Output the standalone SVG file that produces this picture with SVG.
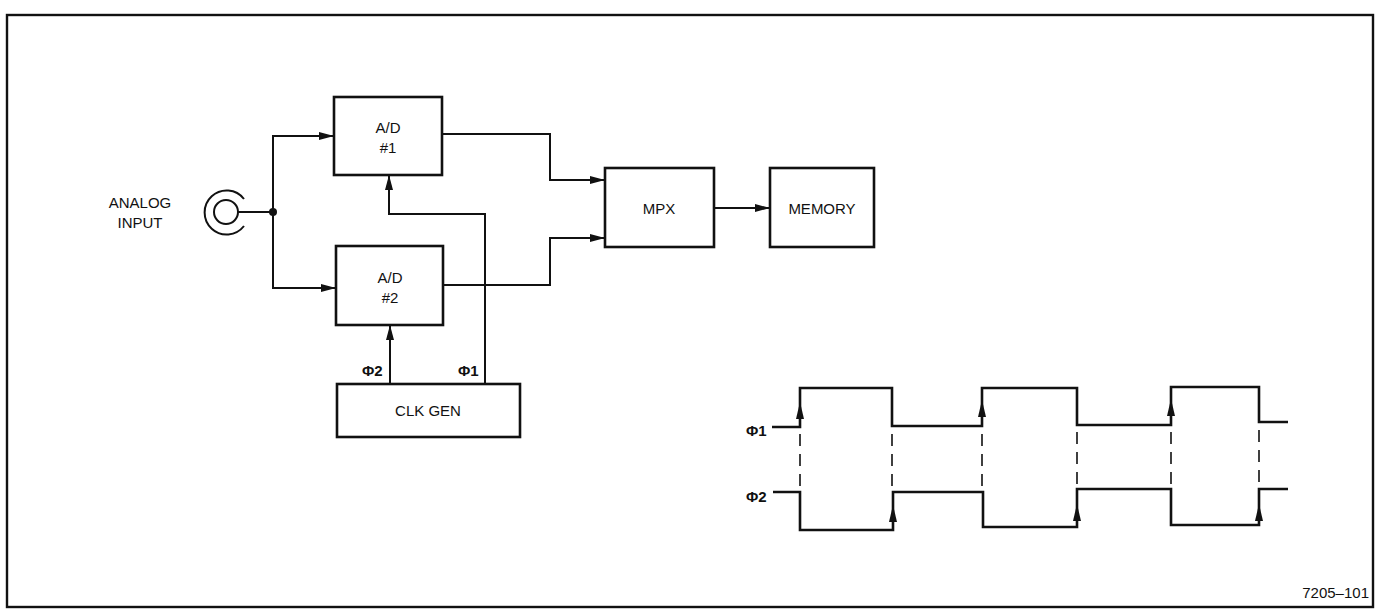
<svg xmlns="http://www.w3.org/2000/svg" width="1379" height="612" viewBox="0 0 1379 612">
<style>
.box{fill:#fff;stroke:#111;stroke-width:2.6}
.ln{fill:none;stroke:#111;stroke-width:2}
.wv{fill:none;stroke:#111;stroke-width:2.6}
.dash{fill:none;stroke:#111;stroke-width:1.6;stroke-dasharray:12,8}
text{font-family:"Liberation Sans",Arial,sans-serif;font-size:15px;fill:#111}
.c{text-anchor:middle}
</style>
<defs>
<marker id="ah" markerWidth="16" markerHeight="10" refX="15" refY="5" orient="auto" markerUnits="userSpaceOnUse">
<path d="M0,1 L15,5 L0,9 Z" fill="#111"/>
</marker>
</defs>
<rect x="7" y="15" width="1366" height="592" fill="none" stroke="#111" stroke-width="2.4"/>

<g id="analog-input">
<text class="c" x="140" y="208">ANALOG</text>
<text class="c" x="140" y="228">INPUT</text>
<path d="M244,199 A22,22 0 1 0 244,226" fill="none" stroke="#111" stroke-width="2"/>
<circle cx="226" cy="212" r="12" fill="none" stroke="#111" stroke-width="2"/>
<circle cx="273" cy="212" r="4" fill="#111"/>
</g>

<g id="ad1">
<rect class="box" x="334" y="97" width="108" height="78"/>
<text class="c" x="388" y="133">A/D</text>
<text class="c" x="388" y="153">#1</text>
</g>
<g id="ad2">
<rect class="box" x="336" y="246" width="107" height="79"/>
<text class="c" x="390" y="283">A/D</text>
<text class="c" x="390" y="303">#2</text>
</g>
<g id="clkgen">
<rect class="box" x="337" y="384" width="183" height="53"/>
<text class="c" x="428" y="416">CLK GEN</text>
</g>
<g id="mpx">
<rect class="box" x="605" y="168" width="109" height="79"/>
<text class="c" x="659" y="214">MPX</text>
</g>
<g id="memory">
<rect class="box" x="770" y="168" width="104" height="79"/>
<text class="c" x="822" y="214">MEMORY</text>
</g>

<g id="connectors">
<path class="ln" d="M238,212 H273"/>
<path class="ln" d="M273,212 V136 H334" marker-end="url(#ah)"/>
<path class="ln" d="M273,212 V288 H336" marker-end="url(#ah)"/>
<path class="ln" d="M442,134 H550 V180 H605" marker-end="url(#ah)"/>
<path class="ln" d="M443,285 H550 V238 H605" marker-end="url(#ah)"/>
<path class="ln" d="M714,208 H770" marker-end="url(#ah)"/>
<path class="ln" d="M485,384 V214 H389 V175" marker-end="url(#ah)"/>
<path class="ln" d="M390,384 V325" marker-end="url(#ah)"/>
<text x="362" y="376" font-weight="bold" font-size="14">Φ2</text>
<text x="458" y="376" font-weight="bold" font-size="14">Φ1</text>
</g>

<g id="timing">
<text x="746" y="436" font-size="13" font-weight="bold">Φ1</text>
<text x="746" y="502" font-size="13" font-weight="bold">Φ2</text>
<path class="wv" d="M772,427 H800 V388 H892 V426 H982 V388 H1077 V425 H1171 V387 H1259 V422 H1288"/>
<path class="wv" d="M773,492 H800 V530 H893 V492 H983 V527 H1077 V489 H1171 V525 H1259 V489 H1288"/>
<path class="dash" d="M800,434 V490 M892,434 V490 M982,434 V488 M1077,432 V487 M1171,432 V487 M1259,430 V487"/>
<g fill="#111">
<path d="M800,402 L796,419 L804,419 Z"/>
<path d="M982,400 L978,417 L986,417 Z"/>
<path d="M1171,399 L1167,416 L1175,416 Z"/>
<path d="M893,505 L889,522 L897,522 Z"/>
<path d="M1077,504 L1073,521 L1081,521 Z"/>
<path d="M1259,504 L1255,521 L1263,521 Z"/>
</g>
</g>
<text x="1369" y="598" text-anchor="end" font-size="15" fill="#333">7205–101</text>
</svg>
